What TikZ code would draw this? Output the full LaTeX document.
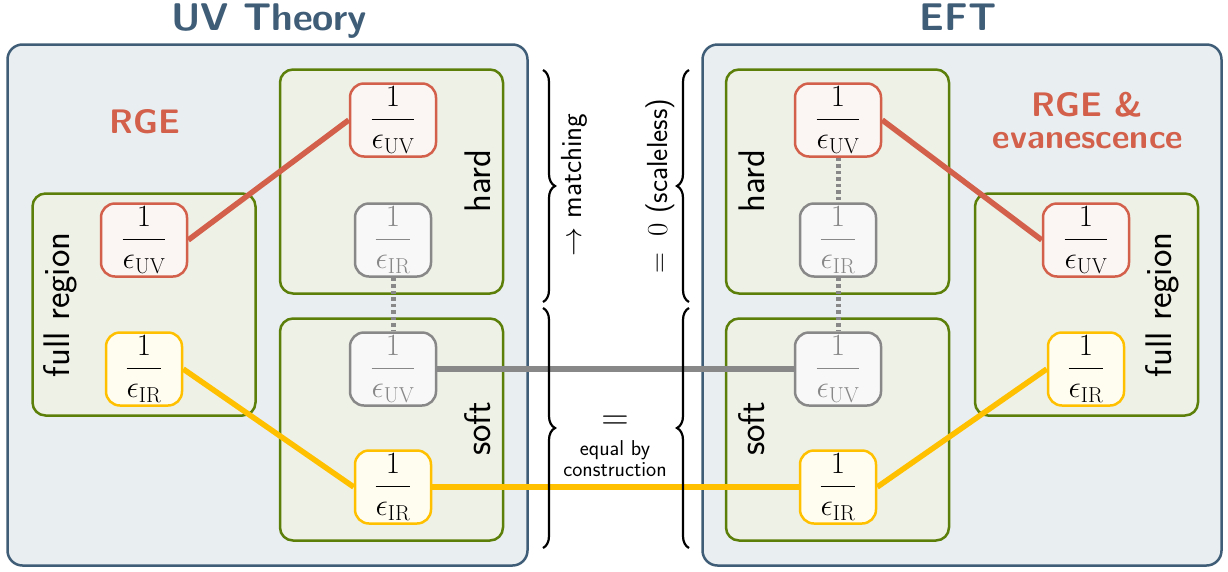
\RequirePackage{fix-cm}
\documentclass[tikz,border=0pt]{standalone}
\usepackage{fontspec}
\usetikzlibrary{decorations.pathreplacing}
\definecolor{slate}{HTML}{3F5D77}
\definecolor{outerfill}{HTML}{E9EEF1}
\definecolor{olive}{HTML}{5C7F0A}
\definecolor{greenfill}{HTML}{EEF1E6}
\definecolor{rust}{HTML}{D3604A}
\definecolor{rustfill}{HTML}{FBF5F3}
\definecolor{grayline}{HTML}{888888}
\definecolor{grayfill}{HTML}{F8F8F8}
\definecolor{amber}{HTML}{FFC000}
\definecolor{amberfill}{HTML}{FFFDF0}
\begin{document}
\begin{tikzpicture}[x=1pt,y=-1pt,
  outerbox/.style={draw=slate, fill=outerfill, line width=2.5pt, rounded corners=15pt, inner sep=0pt},
  regionbox/.style={draw=olive, fill=greenfill, line width=2.5pt, rounded corners=13pt, inner sep=0pt},
  term/.style={rounded corners=14pt, line width=2.5pt, minimum height=73pt, inner xsep=7pt, inner ysep=2pt, font=\fontsize{31}{36}\selectfont},
  uvterm/.style={term, draw=rust, fill=rustfill, minimum width=86pt},
  irterm/.style={term, draw=amber, fill=amberfill, minimum width=76pt},
  ghostuv/.style={term, draw=grayline, fill=grayfill, text=grayline, minimum width=86pt},
  ghostir/.style={term, draw=grayline, fill=grayfill, text=grayline, minimum width=76pt},
  titletext/.style={font=\sffamily\bfseries\fontsize{38.6}{44}\selectfont, text=slate, anchor=base},
  rgetext/.style={font=\sffamily\bfseries\fontsize{34}{31}\selectfont, text=rust, align=center},
  regiontext/.style={font=\sffamily\fontsize{37}{44}\selectfont, rotate=90, anchor=base},
  bracetext/.style={font=\sffamily\fontsize{29}{34}\selectfont, rotate=90, anchor=base},
  smalltext/.style={font=\sffamily\fontsize{21.5}{21}\selectfont, align=center},
  redlink/.style={draw=rust, line width=5.5pt},
  yellowlink/.style={draw=amber, line width=5.5pt},
  graylink/.style={draw=grayline, line width=5.5pt},
  dotlink/.style={draw=grayline, line width=5pt, dash pattern=on 3.5pt off 3pt},
  bracestyle/.style={decorate, decoration={brace, amplitude=12pt}, line width=2.2pt},
]
\useasboundingbox (0,0) rectangle (1228,571);

% titles
\node[titletext] (uvtitle) at (269,30) {UV Theory};
\node[titletext] (efttitle) at (958,30) {EFT};

% outer boxes
\node[outerbox, minimum width=520pt, minimum height=521pt] (uvbox) at (267.5,305) {};
\node[outerbox, minimum width=519pt, minimum height=521pt] (eftbox) at (962,305) {};

% region boxes, UV side
\node[regionbox, minimum width=223pt, minimum height=224pt] (Lhard) at (391.5,181.5) {};
\node[regionbox, minimum width=223pt, minimum height=222pt] (Lsoft) at (391.5,429.5) {};
\node[regionbox, minimum width=223pt, minimum height=222pt] (Lfull) at (144,304.5) {};
% region boxes, EFT side
\node[regionbox, minimum width=223pt, minimum height=224pt] (Rhard) at (837.5,181.5) {};
\node[regionbox, minimum width=223pt, minimum height=222pt] (Rsoft) at (837.5,429.5) {};
\node[regionbox, minimum width=223pt, minimum height=222pt] (Rfull) at (1086.5,304.5) {};

% region labels
\node[regiontext] (Lhardlab) at (490,181) {hard};
\node[regiontext] (Lsoftlab) at (490,429) {soft};
\node[regiontext] (Lfulllab) at (69,305) {full region};
\node[regiontext] (Rhardlab) at (764,181) {hard};
\node[regiontext] (Rsoftlab) at (764,429) {soft};
\node[regiontext] (Rfulllab) at (1171,305) {full region};

% RGE labels
\node[rgetext, anchor=base] (rgeL) at (145,133) {RGE};
\node[rgetext, anchor=base] (rgeR1) at (1087,116) {RGE \&};
\node[rgetext, anchor=base] (rgeR2) at (1088,148) {evanescence};

% terms, UV side
\node[uvterm] (LhUV) at (393,120) {$\displaystyle\frac{1}{\epsilon_{\mathrm{UV}}}$};
\node[ghostir] (LhIR) at (393,240) {$\displaystyle\frac{1}{\epsilon_{\mathrm{IR}}}$};
\node[ghostuv] (LsUV) at (393,369) {$\displaystyle\frac{1}{\epsilon_{\mathrm{UV}}}$};
\node[irterm] (LsIR) at (393,487) {$\displaystyle\frac{1}{\epsilon_{\mathrm{IR}}}$};
\node[uvterm] (LfUV) at (144,240) {$\displaystyle\frac{1}{\epsilon_{\mathrm{UV}}}$};
\node[irterm] (LfIR) at (144,369) {$\displaystyle\frac{1}{\epsilon_{\mathrm{IR}}}$};
% terms, EFT side
\node[uvterm] (RhUV) at (838,120) {$\displaystyle\frac{1}{\epsilon_{\mathrm{UV}}}$};
\node[ghostir] (RhIR) at (838,240) {$\displaystyle\frac{1}{\epsilon_{\mathrm{IR}}}$};
\node[ghostuv] (RsUV) at (838,369) {$\displaystyle\frac{1}{\epsilon_{\mathrm{UV}}}$};
\node[irterm] (RsIR) at (838,487) {$\displaystyle\frac{1}{\epsilon_{\mathrm{IR}}}$};
\node[uvterm] (RfUV) at (1086,240) {$\displaystyle\frac{1}{\epsilon_{\mathrm{UV}}}$};
\node[irterm] (RfIR) at (1086,369) {$\displaystyle\frac{1}{\epsilon_{\mathrm{IR}}}$};

% connectors
\draw[redlink] (LfUV.east) -- (LhUV.west);
\draw[yellowlink] (LfIR.east) -- (LsIR.west);
\draw[yellowlink] (LsIR.east) -- (RsIR.west);
\draw[graylink] (LsUV.east) -- (RsUV.west);
\draw[redlink] (RhUV.east) -- (RfUV.west);
\draw[yellowlink] (RsIR.east) -- (RfIR.west);
\draw[dotlink] (LhIR.south) -- (LsUV.north);
\draw[dotlink] (RhUV.south) -- (RhIR.north);
\draw[dotlink] (RhIR.south) -- (RsUV.north);

% braces
\coordinate (bLt) at (543,70);
\coordinate (bLm) at (543,302);
\coordinate (bLm2) at (543,308);
\coordinate (bLb) at (543,548);
\coordinate (bRt) at (689,70);
\coordinate (bRm) at (689,302);
\coordinate (bRm2) at (689,308);
\coordinate (bRb) at (689,548);
\draw[bracestyle] (bLt) -- (bLm);
\draw[bracestyle] (bLm2) -- (bLb);
\draw[bracestyle] (bRm) -- (bRt);
\draw[bracestyle] (bRb) -- (bRm2);

% brace labels
\node[bracetext] (matchlab) at (581,185) {$\rightarrow$ matching};
\node[bracetext] (scalelab) at (667,186) {$=\;0$ (scaleless)};
\node[font=\fontsize{38}{40}\selectfont] (eqsign) at (615,423) {$=$};
\node[smalltext, anchor=north] (eqlab) at (615,437) {equal by\\construction};
\end{tikzpicture}
\end{document}
